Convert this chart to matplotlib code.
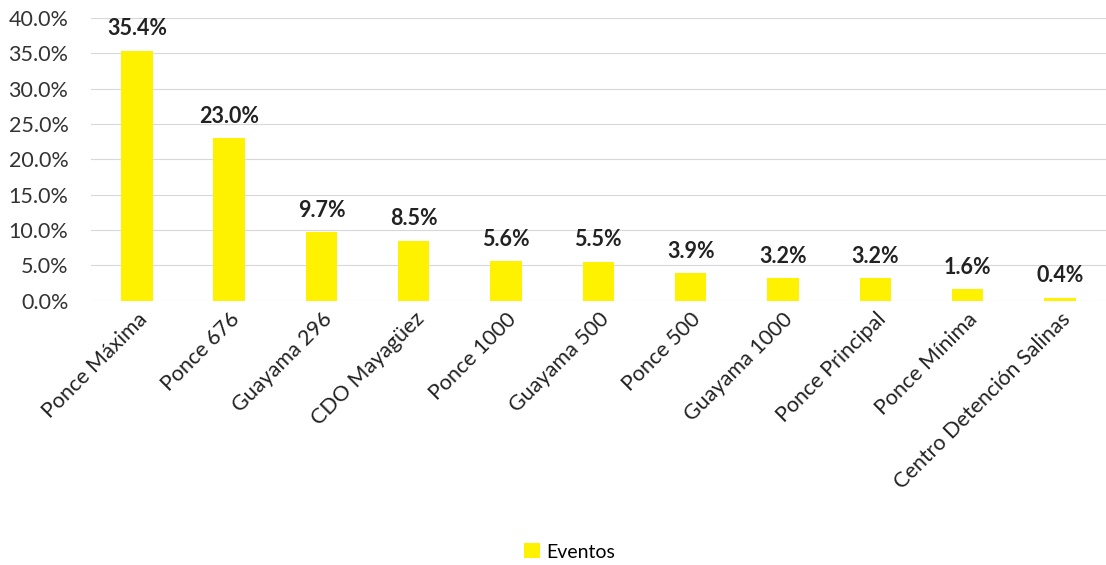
import matplotlib.pyplot as plt
import numpy as np
from matplotlib.ticker import PercentFormatter

plt.rcParams["font.family"] = ["Lato", "DejaVu Sans"]

categories = [
    "Ponce Máxima",
    "Ponce 676",
    "Guayama 296",
    "CDO Mayagüez",
    "Ponce 1000",
    "Guayama 500",
    "Ponce 500",
    "Guayama 1000",
    "Ponce Principal",
    "Ponce Mínima",
    "Centro Detención Salinas",
]
eventos = [35.4, 23.0, 9.7, 8.5, 5.6, 5.5, 3.9, 3.2, 3.2, 1.6, 0.4]

fig = plt.figure(figsize=(11.06, 5.65), dpi=100)
ax = fig.add_axes([0.082, 0.468, 0.918, 0.5])

x = np.arange(len(categories))
bars = ax.bar(x, eventos, width=0.34, color="#FFF200", label="Eventos", zorder=2)

for xi, v in zip(x, eventos):
    ax.text(xi, v + 1.6, f"{v:.1f}%", ha="center", va="bottom",
            fontsize=15.5, fontweight="bold", color="#222222")

ax.set_ylim(0, 40)
ax.set_yticks(np.arange(0, 41, 5))
ax.yaxis.set_major_formatter(PercentFormatter(decimals=1))
ax.set_xlim(-0.5, len(categories) - 0.5)
ax.set_xticks(x)
ax.set_xticklabels(categories, rotation=45, ha="right", rotation_mode="anchor",
                   fontsize=15.5, color="#222222")
ax.tick_params(axis="y", labelsize=15.5, labelcolor="#333333", length=0, pad=16)
ax.tick_params(axis="x", length=0, pad=6)
ax.grid(axis="y", color="#d8d8d8", linewidth=0.8, zorder=0)
for s in ax.spines.values():
    s.set_visible(False)

fig.legend(handles=[bars], labels=["Eventos"], loc="center", bbox_to_anchor=(0.515, 0.023),
           frameon=False, fontsize=14, handlelength=0.8, handleheight=0.8, handletextpad=0.3)

fig.savefig("out.png", dpi=100, facecolor="white")
